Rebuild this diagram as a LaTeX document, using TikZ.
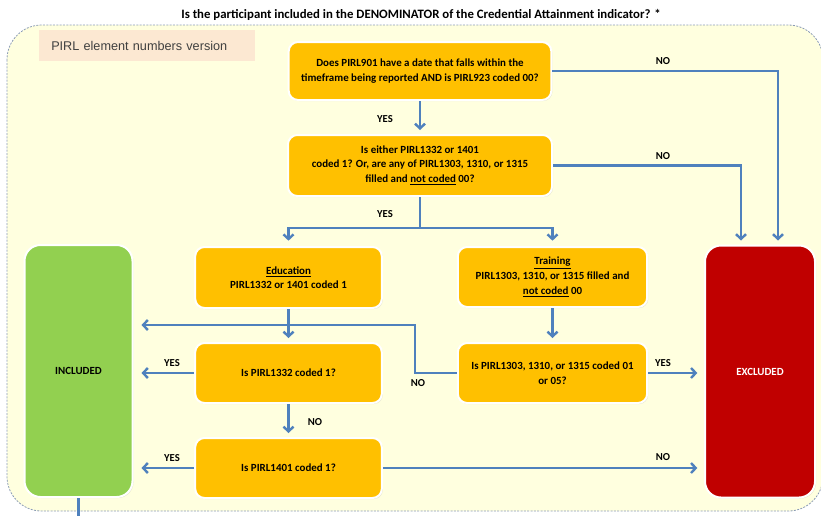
\documentclass[tikz,border=0pt]{standalone}
\usepackage{fontspec}
\setmainfont{Carlito}
\newfontfamily\versionfont{Liberation Sans}
\usetikzlibrary{arrows.meta,calc,shadows}
\definecolor{boxorange}{HTML}{FFC000}
\definecolor{inclgreen}{HTML}{92D050}
\definecolor{exclred}{HTML}{C00000}
\definecolor{flowblue}{HTML}{4F81BD}
\definecolor{paneyellow}{HTML}{FFFFDF}
\definecolor{panedash}{HTML}{8A9BB5}
\definecolor{versionpeach}{HTML}{FCE8D2}

\begin{document}
\begin{tikzpicture}[x=0.75pt,y=-0.75pt,
  qbox/.style={draw=white,line width=1.5pt,fill=boxorange,rounded corners=7pt,
    align=center,font=\bfseries\fontsize{8.2}{10.9}\selectfont,inner sep=2pt,
    drop shadow={opacity=0.2,shadow xshift=0.8pt,shadow yshift=-0.8pt}},
  endbox/.style={qbox,rounded corners=12pt,minimum width=81pt,minimum height=189pt},
  lbl/.style={font=\bfseries\fontsize{8}{9}\selectfont},
  flow/.style={draw=flowblue,line width=1.8pt},
  arr/.style={flow,-{Straight Barb[length=3.5pt,width=7.5pt]},shorten >=3pt}]
  \useasboundingbox (0,0) rectangle (821,515);
  \draw[panedash,fill=paneyellow,rounded corners=26pt,line width=0.6pt,dash pattern=on 1.5pt off 1pt] (7,25) rectangle (823,511);
  \node[font=\bfseries\fontsize{9.6}{11}\selectfont] (title) at (421,15) {Is the participant included in the DENOMINATOR of the Credential Attainment indicator? *};
  \node[fill=versionpeach,anchor=north west,minimum width=162pt,minimum height=23pt,text width=144pt,inner xsep=9pt,align=left,font=\versionfont\fontsize{9.5}{11}\selectfont,text=black!75] (version) at (39,30) {PIRL element numbers version};

  \node[qbox,minimum width=197pt,minimum height=43.5pt] (pirl901) at (420,71) {Does PIRL901 have a date that falls within the\\timeframe being reported AND is PIRL923 coded 00?};
  \node[qbox,minimum width=198pt,minimum height=45.75pt] (anyfilled) at (420,165.5) {Is either PIRL1332 or 1401\\coded 1? Or, are any of PIRL1303, 1310, or 1315\\filled and \underline{not coded} 00?};
  \node[qbox,minimum width=140pt,minimum height=45.75pt] (edu) at (288.5,277.5) {\underline{Education}\\PIRL1332 or 1401 coded 1};
  \node[qbox,minimum width=142pt,minimum height=45pt] (train) at (552.5,277) {\underline{Training}\\PIRL1303, 1310, or 1315 filled and\\\underline{not coded} 00};
  \node[qbox,minimum width=140pt,minimum height=45pt] (q1332) at (288.5,373) {Is PIRL1332 coded 1?};
  \node[qbox,minimum width=140pt,minimum height=45pt] (q1401) at (288.5,468) {Is PIRL1401 coded 1?};
  \node[qbox,minimum width=142pt,minimum height=45pt] (qcode) at (552.5,373) {Is PIRL1303, 1310, or 1315 coded 01\\or 05?};
  \node[endbox,fill=inclgreen] (incl) at (78.5,371) {INCLUDED};
  \node[endbox,fill=exclred,text=white,minimum width=82.5pt] (excl) at (760,371.5) {EXCLUDED};

  \coordinate (split) at (420,228);
  \coordinate (jog) at (415,325);
  \coordinate (offpage) at (78.5,520);
  \draw[arr] (pirl901) -- (anyfilled);
  \draw[arr] (pirl901.east) -| ($(excl.north)+(18,0)$);
  \draw[arr] (anyfilled.east) -| ($(excl.north)+(-19,0)$);
  \draw[flow] (anyfilled) -- (split);
  \draw[arr,shorten >=4pt] (split) -| (edu);
  \draw[arr,shorten >=4pt] (split) -| (train);
  \draw[arr] (edu) -- (q1332);
  \draw[arr] (q1332) -- (q1401);
  \draw[arr] (train) -- (qcode);
  \draw[arr,shorten >=6pt] (q1332.west) -- (q1332.west -| incl.east);
  \draw[arr,shorten >=6pt] (q1401.west) -- (q1401.west -| incl.east);
  \draw[arr,shorten >=5pt] (q1401.east) -- (q1401.east -| excl.west);
  \draw[arr,shorten >=5pt] (qcode.east) -- (qcode.east -| excl.west);
  \draw[arr,shorten >=6pt] (qcode.west) -| (jog) -- (jog -| incl.east);
  \draw[flow] (incl.south) -- (offpage);

  \node[lbl] (yes1) at (385,119) {YES};
  \node[lbl] (no1) at (663,61) {NO};
  \node[lbl] (no2) at (663,156) {NO};
  \node[lbl] (yes2) at (385,214) {YES};
  \node[lbl] (yes3) at (172,363) {YES};
  \node[lbl] (no3) at (418,383) {NO};
  \node[lbl] (no4) at (315,422) {NO};
  \node[lbl] (yes4) at (172,458) {YES};
  \node[lbl] (yes5) at (663,363) {YES};
  \node[lbl] (no5) at (663,457) {NO};
\end{tikzpicture}
\end{document}
